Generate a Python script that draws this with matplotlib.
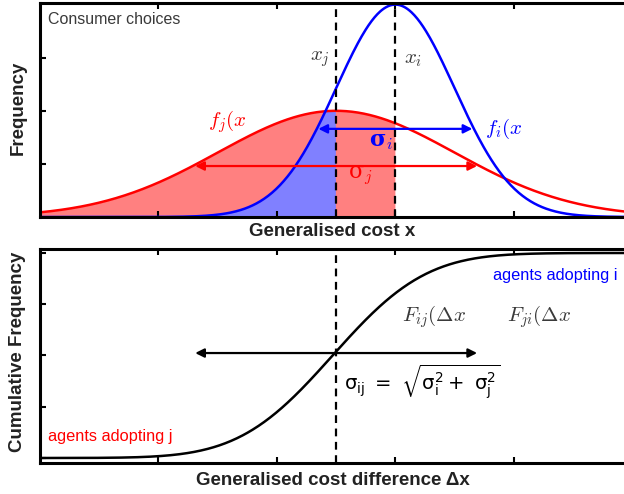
import matplotlib

matplotlib.use("Agg")
import matplotlib.pyplot as plt
import numpy as np
from math import erf

# Parameters of the two cost distributions
X_J, SIGMA_J, PEAK_J = 2.5, 1.0, 2.0   # technology j (red)
X_I, SIGMA_I, PEAK_I = 3.0, 0.5, 4.0   # technology i (blue)
# Cumulative curve (difference distribution)
X_IJ, SIGMA_IJ = 2.47, 0.62

XMAX = 4.93
TOP_YTICKS = [1, 2, 3]
BOT_YTICKS = [0, 0.25, 0.5, 0.75, 1.0]
XTICKS = [1, 2, 3, 4]

plt.rcParams["font.family"] = ["Liberation Sans", "DejaVu Sans"]
plt.rcParams["mathtext.fontset"] = "cm"

x = np.linspace(0, XMAX, 600)
f_j = PEAK_J * np.exp(-(x - X_J) ** 2 / (2 * SIGMA_J ** 2))
f_i = PEAK_I * np.exp(-(x - X_I) ** 2 / (2 * SIGMA_I ** 2))
F_ij = np.array([0.5 * (1 + erf((v - X_IJ) / (SIGMA_IJ * np.sqrt(2)))) for v in x])

RED, BLUE = "#ff0000", "#0000ff"
GREY = "#3a3a3a"

fig = plt.figure(figsize=(6.24, 4.94), dpi=100)
ax1 = fig.add_axes([40 / 624, 1 - 217 / 494, 584 / 624, 214 / 494])
ax2 = fig.add_axes([40 / 624, 1 - 463 / 494, 584 / 624, 214 / 494])

for ax in (ax1, ax2):
    for s in ax.spines.values():
        s.set_linewidth(2.2)
    ax.spines["right"].set_visible(False)
    ax.set_xlim(0, XMAX)
    ax.set_xticks(XTICKS)
    ax.tick_params(direction="in", length=4, width=1.5, top=True,
                   labelbottom=False, labelleft=False)

# --- top panel: distributions ---
ax1.set_ylim(0, 4.03)
ax1.set_yticks(TOP_YTICKS)
ax1.fill_between(x, 0, f_j, where=x <= X_I, color="#ff8080", lw=0)
ax1.fill_between(x, 0, np.minimum(f_i, f_j), where=x <= X_J, color="#8080ff", lw=0)
ax1.plot(x, f_j, color=RED, lw=1.8)
ax1.plot(x, f_i, color=BLUE, lw=1.8)
for xv in (X_J, X_I):
    ax1.axvline(xv, color="black", lw=1.6, ls=(0, (3.5, 2.5)))

arrow = dict(arrowstyle="<|-|>", mutation_scale=13, lw=1.6, shrinkA=0, shrinkB=0)
ax1.annotate("", xy=(2.35, 1.66), xytext=(3.65, 1.66),
             arrowprops=dict(arrow, color=BLUE))
ax1.annotate("", xy=(1.31, 0.96), xytext=(3.69, 0.96),
             arrowprops=dict(arrow, color=RED))

ax1.text(0.07, 3.72, "Consumer choices", fontsize=11.5, color=GREY, va="center")
ax1.text(2.45, 2.97, r"$x_j$", fontsize=15, color=GREY, ha="right", va="center")
ax1.text(3.07, 2.97, r"$x_i$", fontsize=15, color=GREY, ha="left", va="center")
ax1.text(1.42, 1.79, r"$f_j(x$", fontsize=15, color=RED, va="center")
ax1.text(3.76, 1.66, r"$f_i(x$", fontsize=15, color=BLUE, va="center")
ax1.text(2.88, 1.44, r"σ$_i$", fontsize=16, color=BLUE, ha="center",
         va="center", fontweight="bold", family="DejaVu Serif")
ax1.text(2.7, 0.79, r"σ$_j$", fontsize=16, color=RED, ha="center", va="center",
         family="DejaVu Serif")

# --- bottom panel: cumulative ---
ax2.set_ylim(-0.0244, 1.0195)
ax2.set_yticks(BOT_YTICKS)
ax2.plot(x, F_ij, color="black", lw=1.8)
ax2.axvline(X_J, color="black", lw=1.6, ls=(0, (3.5, 2.5)))
ax2.annotate("", xy=(1.31, 0.512), xytext=(3.69, 0.512),
             arrowprops=dict(arrow, color="black"))

ax2.text(3.82, 0.89, "agents adopting i", fontsize=11.8, color=BLUE, va="center")
ax2.text(0.07, 0.107, "agents adopting j", fontsize=11.8, color=RED, va="center")
ax2.text(3.06, 0.69, r"$F_{ij}(\Delta x$", fontsize=15, color=GREY, va="center")
ax2.text(3.94, 0.69, r"$F_{ji}(\Delta x$", fontsize=15, color=GREY, va="center")
ax2.text(2.57, 0.37,
         r"$\mathrm{σ_{ij}}\ =\ \sqrt{\mathrm{σ_i^2} +\ \mathrm{σ_j^2}}$",
         fontsize=14, color="black", va="center", math_fontfamily="dejavusans")

# axis labels
fig.text(332 / 624, 1 - 232 / 494, "Generalised cost x", fontsize=13.5,
         fontweight="bold", color="#222222", ha="center", va="center")
fig.text(333 / 624, 1 - 480 / 494, "Generalised cost difference \u0394x",
         fontsize=13.5, fontweight="bold", color="#222222", ha="center", va="center")
fig.text(18 / 624, 1 - 108 / 494, "Frequency", fontsize=13.5, fontweight="bold",
         color="#222222", rotation=90, ha="center", va="center")
fig.text(18 / 624, 1 - 352 / 494, "Cumulative Frequency", fontsize=13.5,
         fontweight="bold", color="#222222", rotation=90, ha="center", va="center")

fig.savefig("out.png", dpi=100)
